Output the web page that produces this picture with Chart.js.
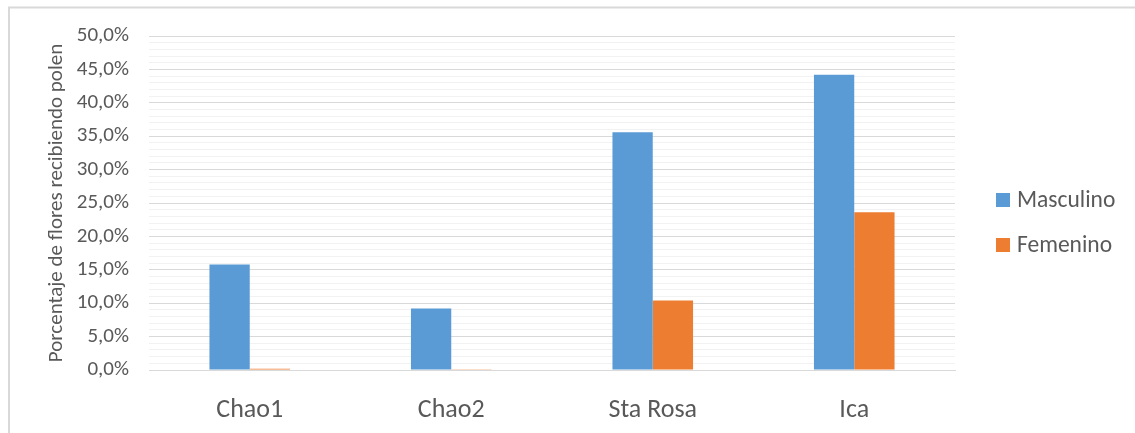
<!DOCTYPE html>
<html>
<head>
<meta charset="utf-8">
<script src="https://cdn.jsdelivr.net/npm/chart.js@4.4.1/dist/chart.umd.min.js"></script>
<style>
  html, body { margin: 0; padding: 0; background: #ffffff; overflow: hidden; }
  canvas { display: block; }
</style>
</head>
<body>
<canvas id="chart" width="1135" height="433"></canvas>
<script>
// Sites and share of flowers receiving pollen (%)
const categories = ['Chao1', 'Chao2', 'Sta Rosa', 'Ica'];
const seriesNames = ['Masculino', 'Femenino'];
const masculino = [15.8, 9.2, 35.6, 44.2];
const femenino = [0.2, 0.1, 10.4, 23.6];
const yMin = 0;
const yMax = 50;
const yMajorStep = 5;
const yMinorStep = 1;
const yTitle = 'Porcentaje de flores recibiendo polen';

const FONT = 'Carlito, Lato, "Liberation Sans", sans-serif';
const TEXT = '#595959';
const GRID = '#d9d9d9';
const GRID_MINOR = '#f2f2f2';
const COLORS = ['#5b9bd5', '#ed7d31'];

function fmtPct(v) {
  return v.toFixed(1).replace('.', ',') + '%';
}

// Frame lines on the left and top edge of the chart
const framePlugin = {
  id: 'frame',
  beforeDraw(chart) {
    const ctx = chart.ctx;
    ctx.save();
    ctx.fillStyle = '#ffffff';
    ctx.fillRect(0, 0, chart.width, chart.height);
    ctx.strokeStyle = GRID;
    ctx.lineWidth = 2;
    ctx.beginPath();
    ctx.moveTo(9, chart.height);
    ctx.lineTo(9, 7.5);
    ctx.lineTo(chart.width, 7.5);
    ctx.stroke();
    ctx.restore();
  }
};

// Legend drawn to the right of the plot area
const sideLegend = {
  id: 'sideLegend',
  afterDraw(chart) {
    const ctx = chart.ctx;
    ctx.save();
    ctx.font = '23.5px ' + FONT;
    ctx.textBaseline = 'middle';
    ctx.textAlign = 'left';
    const x = 996;
    const rows = [200, 245];
    chart.data.datasets.forEach((ds, i) => {
      const cy = rows[i];
      ctx.fillStyle = ds.backgroundColor;
      ctx.fillRect(x, cy - 7, 14, 14);
      ctx.fillStyle = TEXT;
      ctx.fillText(ds.label, x + 21, cy + 1);
    });
    ctx.restore();
  }
};

new Chart(document.getElementById('chart'), {
  type: 'bar',
  data: {
    labels: categories,
    datasets: [
      { label: seriesNames[0], data: masculino, backgroundColor: COLORS[0] },
      { label: seriesNames[1], data: femenino, backgroundColor: COLORS[1] }
    ]
  },
  options: {
    responsive: false,
    animation: false,
    devicePixelRatio: 1,
    layout: { padding: { left: 0, right: 180, top: 36, bottom: 0 } },
    datasets: {
      bar: { categoryPercentage: 0.4, barPercentage: 1.0, borderWidth: 0 }
    },
    plugins: {
      legend: { display: false },
      tooltip: { enabled: false }
    },
    scales: {
      x: {
        grid: { display: false, drawTicks: false },
        border: { display: true, color: GRID, width: 1 },
        ticks: {
          color: TEXT,
          font: { family: FONT, size: 26 },
          padding: 25
        },
        afterFit(scale) { scale.height = 63; }
      },
      y: {
        min: yMin,
        max: yMax,
        border: { display: false },
        grid: {
          drawTicks: false,
          color: (c) => (c.tick && c.tick.value % yMajorStep === 0) ? GRID : GRID_MINOR,
          lineWidth: 1
        },
        ticks: {
          stepSize: yMinorStep,
          autoSkip: false,
          color: TEXT,
          font: { family: FONT, size: 21 },
          padding: 20,
          callback: (v) => (v % yMajorStep === 0 ? fmtPct(v) : '')
        },
        title: {
          display: true,
          text: yTitle,
          color: TEXT,
          font: { family: FONT, size: 21 },
          padding: { top: 44, bottom: 0 }
        },
        afterFit(scale) { scale.width = 149; }
      }
    }
  },
  plugins: [framePlugin, sideLegend]
});
</script>
</body>
</html>
